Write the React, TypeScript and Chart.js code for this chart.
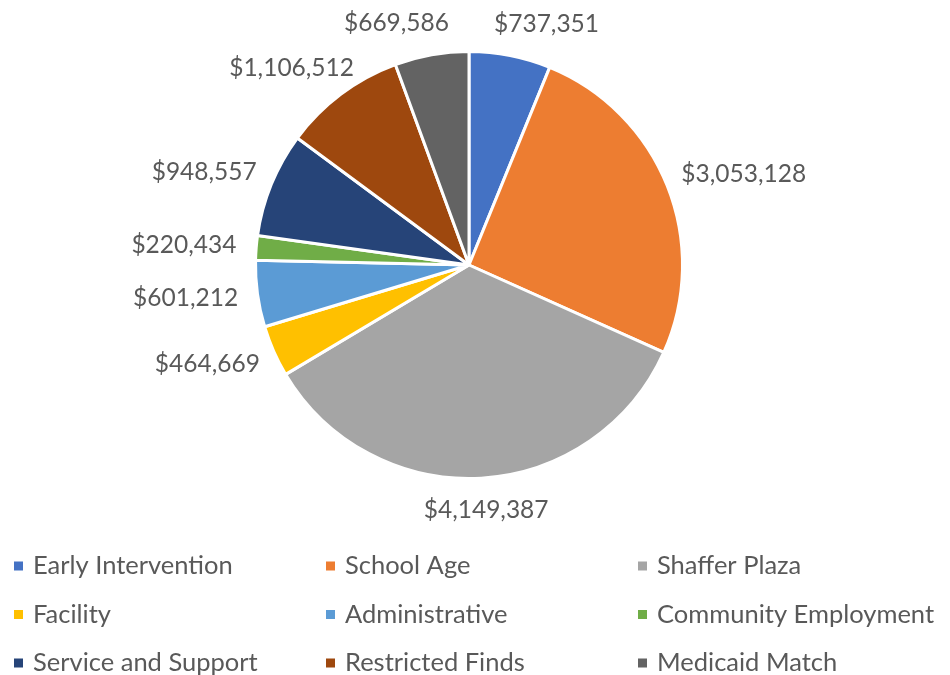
import React, { useEffect, useRef } from "react";
import { Chart, registerables } from "chart.js";

Chart.register(...registerables);

const categories = [
  "Early Intervention",
  "School Age",
  "Shaffer Plaza",
  "Facility",
  "Administrative",
  "Community Employment",
  "Service and Support",
  "Restricted Finds",
  "Medicaid Match",
];
const amounts = [737351, 3053128, 4149387, 464669, 601212, 220434, 948557, 1106512, 669586];
const colors = ["#4472C4", "#ED7D31", "#A5A5A5", "#FFC000", "#5B9BD5", "#70AD47", "#264478", "#9E480E", "#636363"];

const FONT = "Lato, 'Open Sans', sans-serif";
const TEXT_COLOR = "#595959";

const fmt = (v: number) => "$" + v.toLocaleString("en-US");

const outsideLabels = {
  id: "outsideLabels",
  afterDatasetsDraw(chart: any) {
    const ctx = chart.ctx;
    const meta = chart.getDatasetMeta(0);
    ctx.save();
    ctx.font = `24.5px ${FONT}`;
    ctx.fillStyle = TEXT_COLOR;
    ctx.textAlign = "center";
    ctx.textBaseline = "middle";
    const items: any[] = [];
    meta.data.forEach((arc: any, i: number) => {
      const { x, y, startAngle, endAngle, outerRadius } = arc.getProps(
        ["x", "y", "startAngle", "endAngle", "outerRadius"],
        true
      );
      const mid = (startAngle + endAngle) / 2;
      const r = outerRadius + 20;
      const ax = x + Math.cos(mid) * r;
      const ay = y + Math.sin(mid) * r;
      const text = fmt(chart.data.datasets[0].data[i]);
      const w = ctx.measureText(text).width;
      const h = 24;
      items.push({
        text,
        w,
        h,
        tx: ax + Math.cos(mid) * (w / 2),
        ty: ay + Math.sin(mid) * (h / 2),
      });
    });
    // simple horizontal collision resolution
    const gap = 45;
    for (let iter = 0; iter < 10; iter++) {
      for (let a = 0; a < items.length; a++) {
        for (let b = a + 1; b < items.length; b++) {
          const A = items[a];
          const B = items[b];
          if (Math.abs(A.ty - B.ty) < (A.h + B.h) / 2) {
            const need = (A.w + B.w) / 2 + gap;
            const dx = B.tx - A.tx;
            if (Math.abs(dx) < need) {
              const push = (need - Math.abs(dx)) / 2;
              const s = dx >= 0 ? 1 : -1;
              A.tx -= s * push;
              B.tx += s * push;
            }
          }
        }
      }
    }
    items.forEach((it) => ctx.fillText(it.text, it.tx, it.ty));
    ctx.restore();
  },
};

const gridLegend = {
  id: "gridLegend",
  afterDraw(chart: any) {
    const ctx = chart.ctx;
    const labels = chart.data.labels as string[];
    const bg = chart.data.datasets[0].backgroundColor as string[];
    const x0 = 14;
    const colW = 312;
    const y0 = 566;
    const rowH = 48.5;
    const box = 9;
    ctx.save();
    ctx.font = `25.5px ${FONT}`;
    ctx.textBaseline = "middle";
    ctx.textAlign = "left";
    labels.forEach((lab, i) => {
      const col = i % 3;
      const row = Math.floor(i / 3);
      const bx = x0 + col * colW;
      const by = y0 + row * rowH;
      ctx.fillStyle = bg[i];
      ctx.fillRect(bx, by - box / 2, box, box);
      ctx.fillStyle = TEXT_COLOR;
      ctx.fillText(lab, bx + 19, by);
    });
    ctx.restore();
  },
};

export default function App() {
  const ref = useRef<HTMLCanvasElement | null>(null);
  useEffect(() => {
    document.body.style.margin = "0";
    if (!ref.current) return;
    const chart = new Chart(ref.current, {
      type: "pie",
      data: {
        labels: categories,
        datasets: [
          {
            data: amounts,
            backgroundColor: colors,
            borderColor: "#FFFFFF",
            borderWidth: 3,
          },
        ],
      },
      options: {
        responsive: false,
        animation: false,
        layout: { padding: { top: 50, bottom: 195, left: 0, right: 12 } },
        plugins: {
          legend: { display: false },
          tooltip: { enabled: false },
        },
      },
      plugins: [outsideLabels, gridLegend],
    });
    return () => chart.destroy();
  }, []);
  return (
    <div style={{ width: 950, height: 675, background: "#fff" }}>
      <canvas ref={ref} width={950} height={675} />
    </div>
  );
}
